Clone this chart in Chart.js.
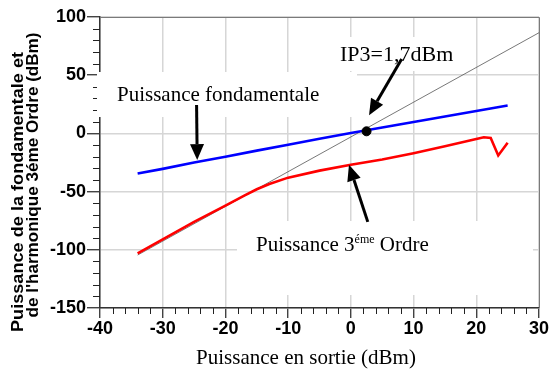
<!DOCTYPE html>
<html>
<head>
<meta charset="utf-8">
<script src="https://cdn.jsdelivr.net/npm/chart.js@4.4.0/dist/chart.umd.min.js"></script>
<style>
  body { margin: 0; background: #fff; }
  canvas { display: block; }
</style>
</head>
<body>
<canvas id="ip3Chart" width="555" height="374"></canvas>
<script>
// axis ticks
const xTicks = [-40, -30, -20, -10, 0, 10, 20, 30]
const yTicks = [-150, -100, -50, 0, 50, 100]

// fundamental output power (dBm)
const fundX = [-34, -30, -25, -20, -15, -10, -5, 0, 5, 10, 15, 20, 25]
const fundY = [-34.5, -30.5, -25, -20, -14.8, -9.7, -4.6, 0.3, 5, 9.8, 14.5, 19.3, 24]

// third order harmonic (dBm)
const thirdX = [-34, -30, -25, -20, -17, -15, -13, -10, -5, 0, 5, 10, 15, 20, 21.2, 22.3, 23.5, 25]
const thirdY = [-103, -91, -76, -62, -53.5, -48, -43.5, -38, -32, -27, -22.5, -17, -11, -4.8, -3.3, -4, -19, -8]

// slope 3 extrapolation
const extrapX = [-34, 30]
const extrapY = [-104.5, 86.5]

// intercept point
const ip3X = [2.5]
const ip3Y = [1.8]

const serif = "'Liberation Serif', 'Times New Roman', serif"
const sans = "'Liberation Sans', Arial, sans-serif"

function toPoints(xs, ys) {
  return xs.map((x, i) => ({ x: x, y: ys[i] }))
}

// arrows in data units : [tailX, tailY, headX, headY]
const arrows = [
  [-24.6, 24.4, -24.5, -22.9],
  [8.1, 63.9, 2.9, 15.7],
  [2.7, -76, -0.3, -27]
]

function drawArrow(ctx, x1, y1, x2, y2) {
  const ang = Math.atan2(y2 - y1, x2 - x1)
  const len = 16, half = 7
  const bx = x2 - len * Math.cos(ang), by = y2 - len * Math.sin(ang)
  ctx.lineWidth = 3
  ctx.beginPath()
  ctx.moveTo(x1, y1)
  ctx.lineTo(bx, by)
  ctx.stroke()
  ctx.beginPath()
  ctx.moveTo(x2, y2)
  ctx.lineTo(bx + half * Math.sin(ang), by - half * Math.cos(ang))
  ctx.lineTo(bx - half * Math.sin(ang), by + half * Math.cos(ang))
  ctx.closePath()
  ctx.fill()
}

// vertical text stretched to a given length
function vText(ctx, text, x, yMid, len) {
  ctx.save()
  ctx.translate(x, yMid)
  ctx.rotate(-Math.PI / 2)
  const w = ctx.measureText(text).width
  ctx.scale(len / w, 1)
  ctx.fillText(text, 0, 0)
  ctx.restore()
}

const decorations = {
  id: 'decorations',
  beforeDatasetsDraw(chart) {
    const ctx = chart.ctx
    const xs = chart.scales.x, ys = chart.scales.y
    const area = chart.chartArea
    ctx.save()
    // top / right frame
    ctx.strokeStyle = '#7a7a7a'
    ctx.lineWidth = 1
    ctx.beginPath()
    ctx.moveTo(area.left, area.top + 0.5)
    ctx.lineTo(area.right + 0.5, area.top + 0.5)
    ctx.lineTo(area.right + 0.5, area.bottom)
    ctx.stroke()

    // minor ticks
    ctx.strokeStyle = '#222'
    ctx.lineWidth = 1
    ctx.beginPath()
    for (let v = -40; v <= 30; v += 2) {
      if (v % 10 === 0) continue
      const px = Math.round(xs.getPixelForValue(v)) + 0.5
      ctx.moveTo(px, area.bottom)
      ctx.lineTo(px, area.bottom + 6)
    }
    for (let v = -150; v <= 100; v += 10) {
      if (v % 50 === 0) continue
      const py = Math.round(ys.getPixelForValue(v)) + 0.5
      ctx.moveTo(area.left, py)
      ctx.lineTo(area.left - 7, py)
    }
    ctx.stroke()

    // white boxes behind the annotations
    ctx.fillStyle = '#fff'
    ctx.fillRect(97, 72, 260, 45)
    ctx.fillRect(335, 37, 138, 34)
    ctx.fillRect(237, 221, 296, 74)
    ctx.restore()
  },
  afterDraw(chart) {
    const ctx = chart.ctx
    const xs = chart.scales.x, ys = chart.scales.y
    ctx.save()
    ctx.fillStyle = '#000'
    ctx.strokeStyle = '#000'

    // annotations
    ctx.textBaseline = 'alphabetic'
    ctx.textAlign = 'left'
    ctx.font = '21px ' + serif
    ctx.fillText('Puissance fondamentale', 117, 101)
    ctx.font = '22px ' + serif
    ctx.fillText('IP3=1,7dBm', 340, 61)

    ctx.font = '21px ' + serif
    let tx = 256
    ctx.fillText('Puissance 3', tx, 251)
    tx += ctx.measureText('Puissance 3').width
    ctx.font = '12px ' + serif
    ctx.fillText('éme', tx, 243)
    tx += ctx.measureText('éme').width
    ctx.font = '21px ' + serif
    ctx.fillText(' Ordre', tx, 251)

    arrows.forEach(a => {
      drawArrow(ctx, xs.getPixelForValue(a[0]), ys.getPixelForValue(a[1]),
        xs.getPixelForValue(a[2]), ys.getPixelForValue(a[3]))
    })

    // axis titles
    ctx.textAlign = 'center'
    ctx.font = '21px ' + serif
    ctx.fillText('Puissance en sortie (dBm)', 306, 364)

    ctx.font = 'bold 17px ' + sans
    vText(ctx, 'Puissance de la fondamentale et', 23, 192, 280)
    vText(ctx, "de l'harmonique 3éme Ordre (dBm)", 38, 175, 285)
    ctx.restore()
  }
}

const canvas = document.getElementById('ip3Chart')

new Chart(canvas, {
  type: 'scatter',
  data: {
    datasets: [
      {
        label: 'IP3',
        data: toPoints(ip3X, ip3Y),
        backgroundColor: '#000',
        borderColor: '#000',
        pointRadius: 4.5,
        order: 1
      },
      {
        label: 'Puissance 3eme Ordre',
        data: toPoints(thirdX, thirdY),
        showLine: true,
        borderColor: '#ff0000',
        borderWidth: 2.6,
        pointRadius: 0,
        order: 2
      },
      {
        label: 'Puissance fondamentale',
        data: toPoints(fundX, fundY),
        showLine: true,
        borderColor: '#0000ff',
        borderWidth: 2.6,
        pointRadius: 0,
        order: 3
      },
      {
        label: 'Extrapolation',
        data: toPoints(extrapX, extrapY),
        showLine: true,
        borderColor: '#555',
        borderWidth: 0.8,
        pointRadius: 0,
        order: 4
      }
    ]
  },
  options: {
    responsive: false,
    animation: false,
    layout: { padding: { top: 17, right: 16, left: 0, bottom: 0 } },
    plugins: {
      legend: { display: false },
      tooltip: { enabled: false }
    },
    scales: {
      x: {
        type: 'linear',
        min: -40,
        max: 30,
        afterBuildTicks: s => { s.ticks = xTicks.map(v => ({ value: v })) },
        afterFit: s => { s.height = 66 },
        grid: { color: '#d6d6d6', lineWidth: 1.5, tickColor: '#222', tickWidth: 1.2, tickLength: 10 },
        border: { color: '#333', width: 1.5 },
        ticks: {
          color: '#000',
          padding: 0,
          maxRotation: 0,
          autoSkip: false,
          font: { family: sans, size: 18, weight: 'bold' }
        }
      },
      y: {
        type: 'linear',
        min: -150,
        max: 100,
        afterBuildTicks: s => { s.ticks = yTicks.map(v => ({ value: v })) },
        afterFit: s => { s.width = 100 },
        grid: { color: '#d6d6d6', lineWidth: 1.5, tickColor: '#222', tickWidth: 1.2, tickLength: 13 },
        border: { color: '#333', width: 1.5 },
        ticks: {
          color: '#000',
          padding: 1,
          autoSkip: false,
          font: { family: sans, size: 18, weight: 'bold' }
        }
      }
    }
  },
  plugins: [decorations]
})
</script>
</body>
</html>
